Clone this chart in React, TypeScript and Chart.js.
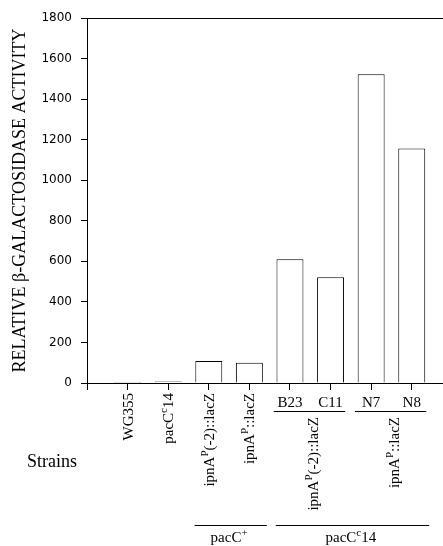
import React, { useEffect, useRef } from 'react';
import { Chart, registerables } from 'chart.js';

Chart.register(...registerables);

// ---- data ----
const strains = ['WG355', 'pacC^{c}14', 'ipnA^{P}(-2)::lacZ', 'ipnA^{P}::lacZ', 'B23', 'C11', 'N7', 'N8'];
const activity = [5, 8, 109, 100, 610, 522, 1522, 1157];
const rotatedStrainCount = 4;
const constructLabels = ['ipnA^{P}(-2)::lacZ', 'ipnA^{P}::lacZ'];
const constructSpans = [[4, 5], [6, 7]];
const backgroundLabels = ['pacC^{+}', 'pacC^{c}14'];
const backgroundSpans = [[2, 3], [4, 7]];
const yTitle = 'RELATIVE β-GALACTOSIDASE ACTIVITY';
const xTitle = 'Strains';
const yMax = 1800;
const yStep = 200;

const SERIF = '"Liberation Serif", "Times New Roman", Times, serif';

type Seg = { t: string; sup: boolean };
function parseRich(s: string): Seg[] {
  const segs: Seg[] = [];
  const re = /\^\{([^}]*)\}/g;
  let last = 0;
  let m: RegExpExecArray | null;
  while ((m = re.exec(s))) {
    if (m.index > last) segs.push({ t: s.slice(last, m.index), sup: false });
    segs.push({ t: m[1], sup: true });
    last = re.lastIndex;
  }
  if (last < s.length) segs.push({ t: s.slice(last), sup: false });
  return segs;
}

function drawRich(
  ctx: CanvasRenderingContext2D,
  s: string,
  x: number,
  y: number,
  size: number,
  rotate: boolean,
  align: 'left' | 'center' | 'right'
) {
  const segs = parseRich(s);
  const supSize = Math.round(size * 0.72);
  const fN = `${size}px ${SERIF}`;
  const fS = `${supSize}px ${SERIF}`;
  const widths = segs.map((g) => {
    ctx.font = g.sup ? fS : fN;
    return ctx.measureText(g.t).width;
  });
  const total = widths.reduce((a, b) => a + b, 0);
  ctx.save();
  ctx.translate(x, y);
  if (rotate) ctx.rotate(-Math.PI / 2);
  ctx.textAlign = 'left';
  ctx.textBaseline = 'alphabetic';
  let cx = align === 'right' ? -total : align === 'center' ? -total / 2 : 0;
  segs.forEach((g, i) => {
    ctx.font = g.sup ? fS : fN;
    ctx.fillText(g.t, cx, g.sup ? -size * 0.4 : 0);
    cx += widths[i];
  });
  ctx.restore();
}

const annotationPlugin = {
  id: 'strainAnnotations',
  afterDraw(chart: any) {
    const ctx: CanvasRenderingContext2D = chart.ctx;
    const xs = chart.scales.x;
    const { bottom, left } = chart.chartArea;
    ctx.save();
    ctx.fillStyle = '#000';
    ctx.strokeStyle = '#000';
    ctx.lineWidth = 1;

    strains.forEach((s, i) => {
      const px = xs.getPixelForValue(i);
      if (i < rotatedStrainCount) {
        drawRich(ctx, s, px + 5, bottom + 10, 15, true, 'right');
      } else {
        drawRich(ctx, s, px, bottom + 24, 15, false, 'center');
      }
    });

    constructLabels.forEach((s, k) => {
      const [a, b] = constructSpans[k];
      const x1 = xs.getPixelForValue(a - 0.4);
      const x2 = xs.getPixelForValue(b + 0.36);
      ctx.beginPath();
      ctx.moveTo(x1, bottom + 28.5);
      ctx.lineTo(x2, bottom + 28.5);
      ctx.stroke();
      const mid = (xs.getPixelForValue(a) + xs.getPixelForValue(b)) / 2;
      drawRich(ctx, s, mid + 8, bottom + 34, 15, true, 'right');
    });

    backgroundLabels.forEach((s, k) => {
      const [a, b] = backgroundSpans[k];
      const x1 = xs.getPixelForValue(a - 0.35);
      const x2 = xs.getPixelForValue(b + 0.43);
      ctx.beginPath();
      ctx.moveTo(x1, bottom + 142.5);
      ctx.lineTo(x2, bottom + 142.5);
      ctx.stroke();
      const mid = (xs.getPixelForValue(a) + xs.getPixelForValue(b)) / 2;
      drawRich(ctx, s, mid, bottom + 159, 15, false, 'center');
    });

    ctx.font = `18px ${SERIF}`;
    ctx.textAlign = 'left';
    ctx.textBaseline = 'alphabetic';
    ctx.fillText(xTitle, left - 60, bottom + 84);
    ctx.restore();
  },
};

export default function App() {
  const ref = useRef<HTMLCanvasElement | null>(null);
  useEffect(() => {
    if (!ref.current) return;
    Chart.defaults.color = '#000';
    const chart = new Chart(ref.current, {
      type: 'bar',
      data: {
        datasets: [
          {
            data: activity.map((v, i) => ({ x: i, y: v })),
            backgroundColor: '#ffffff',
            borderColor: '#000000',
            borderWidth: 1,
            barPercentage: 0.83,
            categoryPercentage: 0.8,
          },
        ],
      },
      options: {
        animation: false,
        responsive: false,
        layout: { padding: { top: 18, right: 0, left: 0, bottom: 0 } },
        plugins: { legend: { display: false }, tooltip: { enabled: false }, title: { display: false } },
        scales: {
          x: {
            type: 'linear',
            offset: false,
            min: -1,
            max: 7.77,
            ticks: { stepSize: 1, display: false, includeBounds: false },
            grid: { color: 'rgba(0,0,0,0)', tickColor: '#000', tickLength: 7, drawOnChartArea: false, offset: false },
            border: { display: true, color: '#000', width: 1 },
            afterFit: (scale: any) => {
              scale.height = 163;
            },
          },
          y: {
            min: 0,
            max: yMax,
            ticks: {
              stepSize: yStep,
              padding: 9,
              color: '#000',
              font: { family: '"DejaVu Sans", Arial, sans-serif', size: 12 },
              callback: (v: any) => String(v),
            },
            grid: {
              color: (c: any) =>
                c.tick && Math.abs(Number(c.tick.value) - yMax) < 1e-6 ? '#000' : 'rgba(0,0,0,0)',
              tickColor: '#000',
              tickLength: 6,
            },
            border: { display: true, color: '#000', width: 1 },
            title: {
              display: true,
              text: yTitle,
              color: '#000',
              font: { family: SERIF, size: 18, weight: 'normal' },
              padding: { top: 9, bottom: 0 },
            },
            afterFit: (scale: any) => {
              scale.width = 87;
            },
          },
        },
      } as any,
      plugins: [annotationPlugin],
    });
    return () => chart.destroy();
  }, []);
  return (
    <div style={{ position: 'fixed', left: 0, top: 0, width: 443, height: 546, background: '#fff' }}>
      <canvas ref={ref} width={443} height={546} style={{ display: 'block' }} />
    </div>
  );
}
